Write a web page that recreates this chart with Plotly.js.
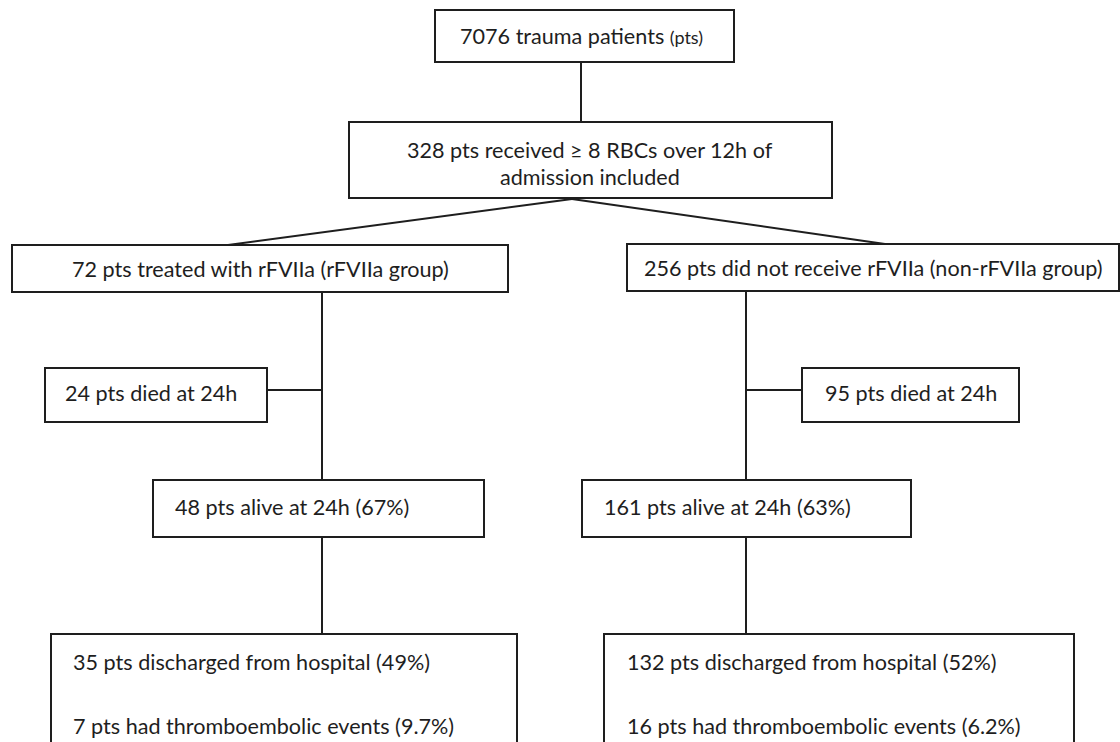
<!DOCTYPE html>
<html>
<head>
<meta charset="utf-8">
<script src="https://cdn.plot.ly/plotly-3.0.1.min.js"></script>
<style>html,body{margin:0;padding:0;background:#fff;}#chart{width:1120px;height:742px;}</style>
</head>
<body>
<div id="chart"></div>
<script>
// ---- data (counts) ----
const totalPts = 7076;
const includedPts = 328;
const groupNames = ["rFVIIa group", "non-rFVIIa group"];
const groupN = [72, 256];
const died24h = [24, 95];
const alive24h = [48, 161];
const alivePct = [67, 63];
const discharged = [35, 132];
const dischargedPct = [49, 52];
const thromboEvents = [7, 16];
const thromboPct = [9.7, 6.2];

// ---- layout geometry (pixel-like coordinates, y grows downward) ----
const INK = "#1e1e1e";
const FONT = "Lato, 'Open Sans', sans-serif";
const FS = 21.6;

const boxTop = {x0: 435, x1: 734, y0: 10, y1: 62};
const boxIncl = {x0: 349, x1: 832, y0: 122, y1: 198};
const groupBox = [{x0: 12, x1: 508, y0: 245, y1: 292}, {x0: 627, x1: 1119, y0: 244, y1: 291}];
const diedBox = [{x0: 45, x1: 267, y0: 368, y1: 422}, {x0: 802, x1: 1019, y0: 368, y1: 422}];
const aliveBox = [{x0: 153, x1: 484, y0: 480, y1: 537}, {x0: 582, x1: 911, y0: 480, y1: 537}];
const outBox = [{x0: 51, x1: 517, y0: 634, y1: 770}, {x0: 604, x1: 1074, y0: 634, y1: 770}];
const stemX = [322, 746];
const apex = {x: 572, y: 199};
const diagEnd = [228, 885];
const connY = 390;
const outTextX = [71, 625];
const aliveTextX = [173, 602];

const shapes = [];
function rect(b) {
  shapes.push({type: "rect", xref: "x", yref: "y", x0: b.x0, x1: b.x1, y0: b.y0, y1: b.y1,
    line: {color: INK, width: 2}, fillcolor: "rgba(0,0,0,0)"});
}
function seg(x0, y0, x1, y1) {
  shapes.push({type: "line", xref: "x", yref: "y", x0: x0, y0: y0, x1: x1, y1: y1,
    line: {color: INK, width: 2}});
}
rect(boxTop); rect(boxIncl);
seg(581, boxTop.y1, 581, boxIncl.y0);
for (let g = 0; g < 2; g++) {
  rect(groupBox[g]); rect(diedBox[g]); rect(aliveBox[g]); rect(outBox[g]);
  seg(apex.x, apex.y, diagEnd[g], groupBox[g].y0);
  seg(stemX[g], groupBox[g].y1, stemX[g], aliveBox[g].y0);
  seg(stemX[g], aliveBox[g].y1, stemX[g], outBox[g].y0);
  if (g === 0) seg(diedBox[g].x1, connY, stemX[g], connY);
  else seg(stemX[g], connY, diedBox[g].x0, connY);
}

const annotations = [];
function label(text, x, y, anchor) {
  annotations.push({text: text, x: x, y: y, xref: "x", yref: "y", showarrow: false,
    xanchor: anchor || "center", yanchor: "middle", align: anchor || "center",
    font: {family: FONT, size: FS, color: INK}});
}
const cx = b => (b.x0 + b.x1) / 2;
const cy = b => (b.y0 + b.y1) / 2;

label(totalPts + " trauma patients <span style='font-size:18px'>(pts)</span>", 581, 36);
label(includedPts + " pts received \u2265 8 RBCs over 12h of", 590, 150);
label("admission included", 590, 177);
const groupText = [
  groupN[0] + " pts treated with rFVIIa (" + groupNames[0] + ")",
  groupN[1] + " pts did not receive rFVIIa (" + groupNames[1] + ")"
];
for (let g = 0; g < 2; g++) {
  label(groupText[g], cx(groupBox[g]), cy(groupBox[g]));
  label(died24h[g] + " pts died at 24h", cx(diedBox[g]) - (g === 0 ? 5 : 0), cy(diedBox[g]) - 2);
  label(alive24h[g] + " pts alive at 24h (" + alivePct[g] + "%)", aliveTextX[g], cy(aliveBox[g]) - 2, "left");
  label(discharged[g] + " pts discharged from hospital (" + dischargedPct[g] + "%)", outTextX[g], 662, "left");
  label(thromboEvents[g] + " pts had thromboembolic events (" + thromboPct[g] + "%)", outTextX[g], 726, "left");
}

const layout = {
  width: 1120, height: 742,
  margin: {l: 0, r: 0, t: 0, b: 0},
  paper_bgcolor: "#ffffff", plot_bgcolor: "#ffffff",
  showlegend: false,
  xaxis: {range: [0, 1120], visible: false, fixedrange: true},
  yaxis: {range: [742, 0], visible: false, fixedrange: true},
  shapes: shapes,
  annotations: annotations
};
Plotly.newPlot("chart", [], layout, {staticPlot: true, displayModeBar: false});
</script>
</body>
</html>
